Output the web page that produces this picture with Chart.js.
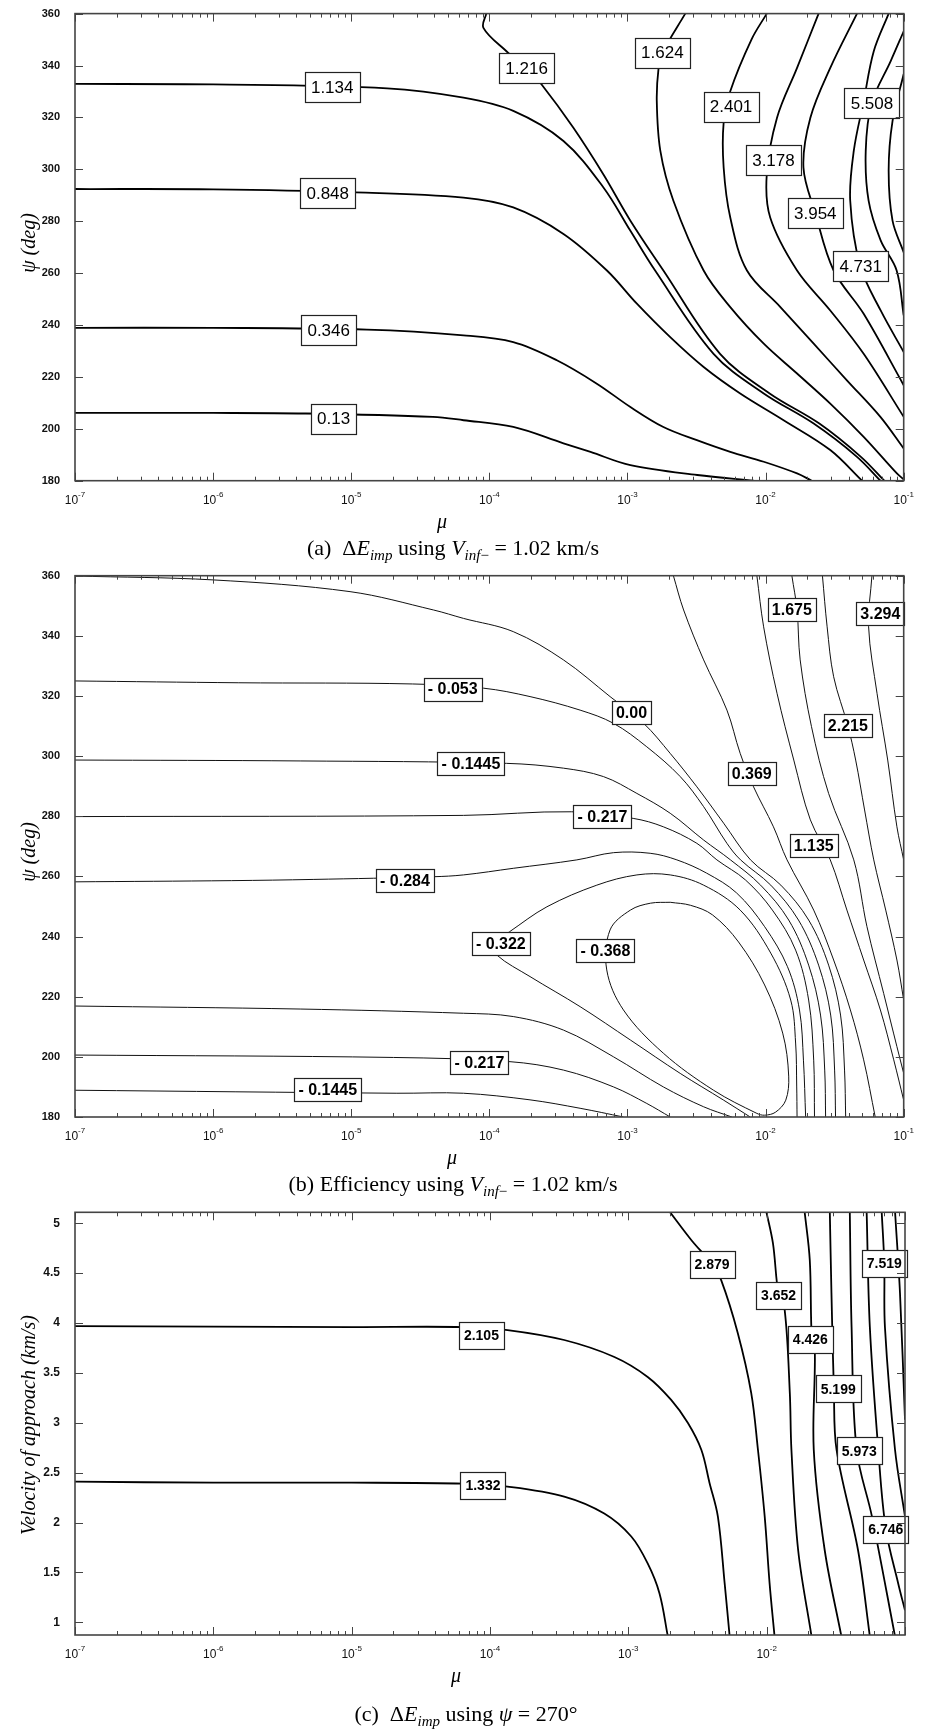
<!DOCTYPE html>
<html>
<head>
<meta charset="utf-8">
<script src="https://cdn.jsdelivr.net/npm/chart.js@4.4.1/dist/chart.umd.min.js"></script>
<style>
  body { margin: 0; background: #fff; width: 926px; height: 1729px; position: relative; overflow: hidden; }
  canvas { position: absolute; left: 0; }
  .cap { position: absolute; left: 0; width: 906px; text-align: center; font: 22px 'Liberation Serif', serif; line-height: 26px; white-space: nowrap; color: #000; }
  .cap sub { font-size: 15px; vertical-align: -5px; line-height: 0; }
</style>
</head>
<body>
<canvas id="chart-a" width="926" height="540" style="top:0px"></canvas>
<div class="cap" style="top:535px">(a)&nbsp; Δ<i>E</i><sub><i>imp</i></sub> using <i>V</i><sub><i>inf</i>−</sub> = 1.02 km/s</div>
<canvas id="chart-b" width="926" height="610" style="top:560px"></canvas>
<div class="cap" style="top:1171px">(b) Efficiency using <i>V</i><sub><i>inf</i>−</sub> = 1.02 km/s</div>
<canvas id="chart-c" width="926" height="500" style="top:1195px"></canvas>
<div class="cap" style="top:1701px; left:13px">(c)&nbsp; Δ<i>E</i><sub><i>imp</i></sub> using <i>ψ</i> = 270°</div>

<script>
'use strict';

function byId(id) { return document.getElementById(id); }

// ---- panel (a): dE_imp, psi vs mu  ([mu, psi] per point)
const a_013  = [[1e-7,206.1],[1e-6,206.1],[4.6e-6,205.9],[3.9e-5,204.6],[6.5e-5,203.3],[1.49e-4,200.7],[3.44e-4,194.4],[5.4e-4,191.1],[1.05e-3,186.0],[3.2e-3,182.2],[8.2e-3,180]];
const a_0346 = [[1e-7,238.9],[1e-6,238.9],[1.3e-5,238.2],[6.5e-5,236.0],[1.49e-4,233.4],[3.08e-4,226.4],[6.0e-4,217.4],[1.05e-3,208.4],[1.82e-3,200.7],[3.18e-3,195.6],[5.55e-3,191.1],[9.7e-3,187.3],[1.69e-2,182.8],[2.16e-2,180]];
const a_0848 = [[1e-7,292.4],[1e-6,292.3],[1e-5,291.2],[6.5e-5,289.1],[1.49e-4,285.3],[3.44e-4,275.1],[7.1e-4,261.0],[1.17e-3,248.2],[2.04e-3,235.3],[3.56e-3,223.8],[6.55e-3,213.6],[1.35e-2,203.3],[2.94e-2,191.8],[4.99e-2,180]];
const a_1134 = [[1e-7,332.9],[1e-6,332.7],[1.82e-5,331.2],[6.5e-5,327.6],[1.49e-4,322.5],[3.44e-4,310.9],[6.7e-4,293.0],[1.05e-3,276.3],[1.59e-3,260.9],[4.2e-3,228.9],[9.7e-3,213.6],[2.23e-2,202.0],[4.59e-2,189.2],[6.78e-2,180]];
const a_1216 = [[9.5e-5,360],[9.06e-5,354.5],[1.33e-4,345.5],[1.85e-4,339.1],[2.39e-4,332.7],[4.06e-4,316],[6.7e-4,298],[1.05e-3,280.2],[1.82e-3,261],[4.68e-3,228.9],[1.07e-2,213.6],[2.45e-2,202.0],[4.9e-2,189.2],[7.24e-2,180]];
const a_1624 = [[2.62e-3,360],[1.79e-3,344.9],[1.68e-3,339.1],[1.63e-3,326.3],[1.73e-3,307.1],[2.15e-3,287.9],[3.56e-3,261.0],[5.55e-3,246.9],[9.7e-3,232.8],[1.69e-2,221.3],[2.94e-2,209.7],[5.13e-2,196.9],[8.93e-2,182.8],[0.1,180.5]];
const a_2401 = [[1.02e-2,360],[7.9e-3,350],[5.55e-3,330.1],[4.97e-3,318.0],[4.97e-3,300.7],[5.55e-3,281.4],[7.33e-3,261.0],[1.28e-2,246.9],[2.23e-2,232.8],[3.88e-2,218.7],[6.78e-2,204.6],[0.1,192.4]];
const a_3178 = [[2.42e-2,360],[1.69e-2,339.1],[1.21e-2,319.9],[1.02e-2,298.1],[1.08e-2,281.4],[1.69e-2,261.0],[2.94e-2,245.6],[5.13e-2,228.9],[0.1,204.6]];
const a_3954 = [[4.59e-2,360],[2.94e-2,339.1],[2.11e-2,319.9],[1.88e-2,300.7],[2.29e-2,283.1],[3.11e-2,261.0],[5.13e-2,244.3],[0.1,216.8]];
const a_4731 = [[7.78e-2,360],[6.07e-2,345.5],[5.13e-2,326.3],[4.35e-2,307.1],[4.1e-2,287.9],[4.85e-2,262.6],[6.81e-2,245.6],[0.1,229.6]];
const a_5508 = [[0.1,353.2],[8.05e-2,341.7],[5.86e-2,325.5],[5.31e-2,307.1],[5.57e-2,287.9],[6.81e-2,272.6],[8.89e-2,261.0],[0.1,243.7]];
const a_6285 = [[0.1,336.7],[8.3e-2,318.6],[7.78e-2,299.4],[8.3e-2,280.2],[0.1,268]];

const aLabelText = ['1.134', '0.848', '0.346', '0.13', '1.216', '1.624', '2.401', '3.178', '3.954', '4.731', '5.508'];
const aLabelMu   = [7.28e-6, 6.76e-6, 6.87e-6, 7.46e-6, 1.86e-4, 1.79e-3, 5.62e-3, 1.14e-2, 2.29e-2, 4.88e-2, 5.89e-2];
const aLabelPsi  = [331.7, 290.9, 238.1, 203.9, 339.1, 344.9, 324.1, 303.5, 283.1, 262.6, 325.6];

// ---- panel (b): efficiency, psi vs mu
const b_000   = [[1e-7,359.9],[1.0e-6,358.6],[9.8e-6,354.7],[3.94e-5,348.6],[6.5e-5,345.8],[1.49e-4,341.4],[3.44e-4,332.0],[7.48e-4,319.8],[1.31e-3,310.9],[2.04e-3,300.9],[3.18e-3,289.8],[4.97e-3,277.7],[7.78e-3,265.5],[1.29e-2,257.1],[2.05e-2,245.5],[2.86e-2,230.5],[3.49e-2,213.9],[3.73e-2,195.6],[3.8e-2,180]];
const b_053   = [[1e-7,325.0],[1.52e-6,324.4],[2.77e-5,324.0],[9.06e-5,322.6],[1.97e-4,319.8],[4.54e-4,315.3],[7.93e-4,310.9],[1.38e-3,303.1],[2.41e-3,293.2],[3.56e-3,283.2],[5.25e-3,271.0],[6.59e-3,265.5],[1.09e-2,257.1],[1.73e-2,245.5],[2.42e-2,230.5],[2.96e-2,213.9],[3.16e-2,195.6],[3.21e-2,180]];
const b_1445u = [[1e-7,298.7],[4.27e-6,298.4],[1.33e-4,297.6],[3.44e-4,296.0],[6.7e-4,293.2],[1.17e-3,287.6],[2.04e-3,281.0],[3.56e-3,272.1],[5.57e-3,265.5],[9.2e-3,257.1],[1.47e-2,245.5],[2.05e-2,230.5],[2.5e-2,213.9],[2.68e-2,195.6],[2.72e-2,180]];
const b_217u  = [[1e-7,279.9],[6.5e-5,280.3],[3.94e-4,281.5],[1.1e-3,279.3],[1.82e-3,276.5],[3.18e-3,271.0],[4.44e-3,265.5],[7.16e-3,258.8],[1.12e-2,248.8],[1.65e-2,235.5],[2.05e-2,218.9],[2.23e-2,198.9],[2.26e-2,180]];
const b_284u  = [[1e-7,258.2],[1.36e-6,258.6],[5.3e-6,259.0],[3.94e-5,259.9],[6.5e-5,260.5],[1.49e-4,262.7],[4.3e-4,265.5],[7.93e-4,267.9],[1.46e-3,267.7],[2.28e-3,265.5],[3.74e-3,261.1],[6.17e-3,254.5],[9.84e-3,243.3],[1.44e-2,230.0],[1.76e-2,215.6],[1.88e-2,198.9],[1.95e-2,180]];
const b_284l  = [[1e-7,216.9],[4.27e-6,215.9],[6.5e-5,214.5],[1.49e-4,213.4],[3.44e-4,208.9],[7.93e-4,200.0],[1.82e-3,190.0],[3.56e-3,183.4],[5.7e-3,180]];
const b_217l  = [[1e-7,200.6],[2.02e-5,199.8],[1.41e-4,198.4],[3.44e-4,195.6],[7.93e-4,190.0],[1.38e-3,184.5],[2.04e-3,180]];
const b_1445l = [[1e-7,188.9],[2.14e-5,187.9],[6.5e-5,187.9],[1.97e-4,185.7],[4.54e-4,182.9],[9.35e-4,180]];
const b_322   = [[7.74e-3,180],[4.97e-3,185.6],[2.41e-3,194.5],[1.05e-3,205.6],[4.54e-4,216.7],[1.97e-4,226.7],[1.13e-4,233.9],[1.07e-4,237.8],[1.4e-4,241.6],[2.61e-4,249.9],[6.0e-4,257.1],[1.17e-3,260.5],[2.04e-3,260.5],[3.56e-3,257.1],[6.55e-3,248.8],[1.09e-2,234.5],[1.52e-2,218.9],[1.65e-2,204.6],[1.68e-2,190.3],[1.69e-2,180]];
const b_368   = [[2.04e-3,251.4],[2.86e-3,250.4],[4.13e-3,247.2],[6.37e-3,238.2],[9.84e-3,223.9],[1.33e-2,207.9],[1.47e-2,193.6],[1.4e-2,185.6],[1.18e-2,181.6],[9.84e-3,180.6],[8.65e-3,181.2],[4.2e-3,188.9],[1.82e-3,201.2],[9.35e-4,215.6],[7.08e-4,228.9],[7.48e-4,242.2],[1.05e-3,248.8],[1.47e-3,251.1],[2.04e-3,251.4]];
const b_369   = [[2.15e-3,360],[2.55e-3,348.6],[3.56e-3,332.0],[5.25e-3,315.3],[6.55e-3,300.9],[8.18e-3,289.8],[1.14e-2,276.5],[1.43e-2,265.5],[2.23e-2,248.8],[3.11e-2,232.2],[4.11e-2,215.6],[5.13e-2,199.0],[6.22e-2,180]];
const b_1135  = [[8.65e-3,360],[9.68e-3,343.0],[1.21e-2,320.9],[1.6e-2,298.7],[2.11e-2,278.8],[2.94e-2,265.5],[3.88e-2,248.8],[5.13e-2,232.2],[6.78e-2,215.6],[8.47e-2,199.0],[0.1,185.6]];
const b_1675  = [[1.55e-2,360],[1.69e-2,348.6],[1.78e-2,332.0],[2.15e-2,309.8],[2.86e-2,287.6],[4.35e-2,265.5],[5.42e-2,243.3],[7.16e-2,221.1],[8.93e-2,203.4],[0.1,194.5]];
const b_2215  = [[2.58e-2,360],[2.79e-2,343.0],[3.11e-2,326.4],[3.94e-2,310.1],[4.49e-2,298.7],[5.21e-2,282.1],[6.07e-2,265.5],[7.41e-2,248.8],[8.93e-2,232.2],[0.1,218.9]];
const b_3294  = [[5.89e-2,360],[5.57e-2,343.0],[6.41e-2,320.9],[7.66e-2,298.7],[8.93e-2,276.5],[0.1,265.5]];

const bLabelText = ['- 0.053', '0.00', '- 0.1445', '- 0.217', '- 0.284', '- 0.322', '- 0.368', '- 0.217', '- 0.1445', '0.369', '1.135', '1.675', '2.215', '3.294'];
const bLabelMu   = [5.43e-5, 1.07e-3, 7.36e-5, 6.59e-4, 2.45e-5, 1.21e-4, 6.93e-4, 8.47e-5, 6.76e-6, 7.94e-3, 2.23e-2, 1.55e-2, 3.94e-2, 6.78e-2];
const bLabelPsi  = [322.3, 314.5, 297.4, 279.9, 258.5, 237.8, 235.4, 198.1, 189.1, 294.3, 270.4, 348.6, 310.1, 347.5];

// ---- panel (c): dE_imp, velocity of approach vs mu
const c_1332 = [[1e-7,2.41],[1e-6,2.40],[1e-5,2.40],[6.5e-5,2.39],[1.34e-4,2.36],[3.44e-4,2.26],[6.7e-4,2.09],[1.05e-3,1.86],[1.38e-3,1.59],[1.68e-3,1.29],[1.93e-3,0.86]];
const c_2105 = [[1e-7,3.97],[1e-6,3.965],[1e-5,3.96],[6.5e-5,3.96],[1.34e-4,3.93],[3.44e-4,3.83],[7.93e-4,3.66],[1.38e-3,3.46],[2.04e-3,3.23],[2.69e-3,3.0],[3.37e-3,2.73],[3.86e-3,2.40],[4.44e-3,2.06],[4.97e-3,1.39],[5.4e-3,0.86]];
const c_2879 = [[1.98e-3,5.12],[2.86e-3,4.83],[4.03e-3,4.59],[4.69e-3,4.43],[6.18e-3,3.90],[7.73e-3,3.30],[8.65e-3,2.73],[9.68e-3,2.06],[1.05e-2,1.39],[1.14e-2,0.86]];
const c_3652 = [[9.93e-3,5.12],[1.11e-2,4.80],[1.22e-2,4.28],[1.35e-2,4.13],[1.47e-2,3.30],[1.51e-2,2.73],[1.69e-2,1.72],[2.11e-2,0.86]];
const c_4426 = [[1.88e-2,5.12],[2.05e-2,4.63],[2.12e-2,3.84],[2.23e-2,3.71],[2.19e-2,2.73],[2.63e-2,1.72],[3.47e-2,0.86]];
const c_5199 = [[2.86e-2,5.12],[2.94e-2,4.30],[3.06e-2,3.34],[3.2e-2,2.73],[4.58e-2,1.72],[5.57e-2,0.86]];
const c_5973 = [[3.99e-2,5.12],[4.11e-2,3.96],[4.47e-2,2.73],[5.77e-2,2.06],[8.47e-2,0.86]];
const c_6746 = [[5.28e-2,5.12],[5.57e-2,3.96],[6.41e-2,2.73],[7.26e-2,1.94],[8.93e-2,1.39],[0.1,1.12]];
const c_7519 = [[6.78e-2,5.12],[7.08e-2,4.60],[7.16e-2,3.96],[8.47e-2,2.73],[0.1,2.06]];
const c_8292 = [[8.47e-2,5.12],[9.2e-2,4.30],[0.1,3.03]];

const cLabelText = ['2.105', '1.332', '2.879', '3.652', '4.426', '5.199', '5.973', '6.746', '7.519'];
const cLabelMu   = [8.67e-5, 8.89e-5, 4.03e-3, 1.22e-2, 2.07e-2, 3.29e-2, 4.67e-2, 7.26e-2, 7.08e-2];
const cLabelV    = [3.88, 2.376, 4.59, 4.28, 3.84, 3.34, 2.72, 1.93, 4.60];


// draws frame, inward ticks, 10^n labels, contour labels and axis titles
function framePlugin(o) {
  return {
    id: 'frame',
    afterDatasetsDraw(chart) {
      const ctx = chart.ctx;
      const a = chart.chartArea;
      const xs = chart.scales.x;
      const ys = chart.scales.y;
      ctx.save();

      // contour labels
      ctx.font = o.labelFont;
      ctx.textAlign = 'center';
      ctx.textBaseline = 'middle';
      o.labelText.forEach((s, i) => {
        const px = xs.getPixelForValue(o.labelX[i]);
        const py = ys.getPixelForValue(o.labelY[i]);
        const w = Math.round(ctx.measureText(s).width + o.labelPad * 2);
        const h = o.labelH;
        const bx = Math.round(px - w / 2) + 0.5;
        const by = Math.round(py - h / 2) + 0.5;
        ctx.fillStyle = '#fff';
        ctx.fillRect(bx, by, w, h);
        ctx.strokeStyle = '#222';
        ctx.lineWidth = 1.2;
        ctx.strokeRect(bx, by, w, h);
        ctx.fillStyle = '#000';
        ctx.fillText(s, px, py + 1);
      });

      // ticks (inside, all four sides)
      ctx.strokeStyle = '#444';
      ctx.lineWidth = 1;
      ctx.beginPath();
      xs.ticks.forEach(t => {
        const lg = Math.log10(t.value);
        const major = Math.abs(lg - Math.round(lg)) < 1e-6;
        const e = Math.floor(lg + 1e-6);
        const m = t.value / Math.pow(10, e);
        if (!major && Math.abs(m - Math.round(m)) > 1e-6) return;
        const px = Math.round(xs.getPixelForValue(t.value)) + 0.5;
        const len = major ? 8 : 4;
        ctx.moveTo(px, a.bottom); ctx.lineTo(px, a.bottom - len);
        ctx.moveTo(px, a.top); ctx.lineTo(px, a.top + len);
      });
      ys.ticks.forEach(t => {
        const py = Math.round(ys.getPixelForValue(t.value)) + 0.5;
        ctx.moveTo(a.left, py); ctx.lineTo(a.left + 8, py);
        ctx.moveTo(a.right, py); ctx.lineTo(a.right - 8, py);
      });
      ctx.stroke();
      ctx.lineWidth = 1.6;
      ctx.strokeRect(a.left, a.top, a.right - a.left, a.bottom - a.top);

      // decade labels 10^n
      ctx.fillStyle = '#111';
      ctx.textAlign = 'left';
      ctx.textBaseline = 'alphabetic';
      xs.ticks.forEach(t => {
        const lg = Math.log10(t.value);
        if (Math.abs(lg - Math.round(lg)) > 1e-6) return;
        const n = Math.round(lg);
        if (o.hideExp.includes(n)) return;
        ctx.font = o.baseFont;
        const w1 = ctx.measureText('10').width;
        ctx.font = o.expFont;
        const w2 = ctx.measureText(String(n)).width;
        const x0 = xs.getPixelForValue(t.value) - (w1 + w2) / 2;
        ctx.font = o.baseFont;
        ctx.fillText('10', x0, a.bottom + 23);
        ctx.font = o.expFont;
        ctx.fillText(String(n), x0 + w1, a.bottom + 16);
      });

      // axis titles
      ctx.fillStyle = '#000';
      ctx.font = o.titleFont;
      ctx.textAlign = 'center';
      ctx.textBaseline = 'middle';
      ctx.fillText(o.xTitle[0], o.xTitle[1], o.xTitle[2]);
      ctx.translate(o.yTitle[1], o.yTitle[2]);
      ctx.rotate(-Math.PI / 2);
      ctx.fillText(o.yTitle[0], 0, 0);
      ctx.restore();
    }
  };
}

function makeContour(id, p) {
  const datasets = p.lines.map(pts => ({
    data: pts.map(q => ({ x: q[0], y: q[1] })),
    borderColor: p.lineColor,
    borderWidth: p.lineWidth,
    pointRadius: 0,
    tension: 0.35,
    fill: false
  }));

  return new Chart(byId(id), {
    type: 'line',
    data: { datasets: datasets },
    options: {
      responsive: false,
      animation: false,
      events: [],
      layout: { padding: { left: 0, right: 926 - p.right, top: p.top, bottom: 0 } },
      plugins: { legend: { display: false }, tooltip: { enabled: false } },
      scales: {
        x: {
          type: 'logarithmic',
          min: 1e-7,
          max: 0.1,
          grid: { display: false },
          border: { display: false },
          ticks: { display: false, autoSkip: false },
          afterFit: s => { s.height = p.height - p.bottom; }
        },
        y: {
          type: 'linear',
          min: p.yMin,
          max: p.yMax,
          grid: { display: false },
          border: { display: false },
          ticks: {
            stepSize: p.yStep,
            includeBounds: false,
            padding: 7,
            color: '#111',
            font: p.yFont,
            callback: v => String(Math.round(v * 10) / 10)
          },
          afterFit: s => { s.width = 75; }
        }
      }
    },
    plugins: [framePlugin(p.deco)]
  });
}

makeContour('chart-a', {
  lines: [a_013, a_0346, a_0848, a_1134, a_1216, a_1624, a_2401, a_3178, a_3954, a_4731, a_5508, a_6285],
  lineColor: '#000', lineWidth: 1.8,
  height: 540, top: 12.3, bottom: 480.7, right: 903.7,
  yMin: 180, yMax: 360, yStep: 20,
  yFont: { family: 'Liberation Sans', size: 11, weight: 'bold' },
  deco: {
    labelText: aLabelText, labelX: aLabelMu, labelY: aLabelPsi,
    labelFont: '17px "Liberation Sans"', labelPad: 6, labelH: 30,
    hideExp: [],
    baseFont: '12px "Liberation Sans"', expFont: '8px "Liberation Sans"',
    titleFont: 'italic 20px "Liberation Serif"',
    xTitle: ['μ', 442, 523], yTitle: ['ψ (deg)', 30, 243]
  }
});

makeContour('chart-b', {
  lines: [b_000, b_053, b_1445u, b_217u, b_284u, b_284l, b_217l, b_1445l, b_322, b_368, b_369, b_1135, b_1675, b_2215, b_3294],
  lineColor: '#111', lineWidth: 1,
  height: 610, top: 15.7, bottom: 557, right: 903.7,
  yMin: 180, yMax: 360, yStep: 20,
  yFont: { family: 'Liberation Sans', size: 11, weight: 'bold' },
  deco: {
    labelText: bLabelText, labelX: bLabelMu, labelY: bLabelPsi,
    labelFont: 'bold 16px "Liberation Sans"', labelPad: 4, labelH: 23,
    hideExp: [],
    baseFont: '12px "Liberation Sans"', expFont: '8px "Liberation Sans"',
    titleFont: 'italic 20px "Liberation Serif"',
    xTitle: ['μ', 452, 599], yTitle: ['ψ (deg)', 30, 292]
  }
});

makeContour('chart-c', {
  lines: [c_1332, c_2105, c_2879, c_3652, c_4426, c_5199, c_5973, c_6746, c_7519, c_8292],
  lineColor: '#000', lineWidth: 1.8,
  height: 500, top: 17.3, bottom: 440, right: 905,
  yMin: 0.873, yMax: 5.11, yStep: 0.5,
  yFont: { family: 'Liberation Sans', size: 12, weight: 'bold' },
  deco: {
    labelText: cLabelText, labelX: cLabelMu, labelY: cLabelV,
    labelFont: 'bold 14px "Liberation Sans"', labelPad: 5, labelH: 27,
    hideExp: [-1],
    baseFont: '12px "Liberation Sans"', expFont: '8px "Liberation Sans"',
    titleFont: 'italic 20px "Liberation Serif"',
    xTitle: ['μ', 456, 482], yTitle: ['Velocity of approach (km/s)', 30, 230]
  }
});
</script>
</body>
</html>
